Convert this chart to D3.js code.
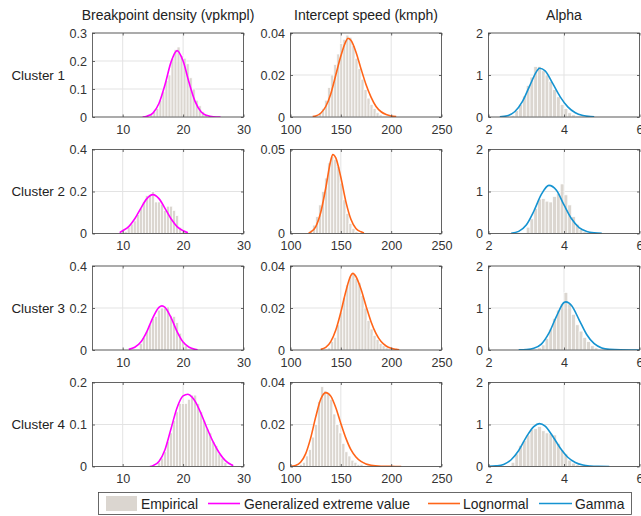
<!DOCTYPE html>
<html><head><meta charset="utf-8">
<script src="https://cdn.jsdelivr.net/npm/d3@7"></script>
<style>
body{margin:0;background:#fff;}
svg{display:block;font-family:"Liberation Sans",Arial,sans-serif;}
</style></head>
<body><svg id="c" width="641" height="516"></svg>
<script>
// ---------- data ----------
const columnTitles = ["Breakpoint density (vpkmpl)", "Intercept speed (kmph)", "Alpha"];
const clusterNames = ["Cluster 1", "Cluster 2", "Cluster 3", "Cluster 4"];
const fitNames = ["Generalized extreme value", "Lognormal", "Gamma"];

const xDomains = [[5, 30], [100, 250], [2, 6]];
const xTickValues = [[10, 20, 30], [100, 150, 200, 250], [2, 4, 6]];

// y axis max and tick labels, [cluster][column]
const yMax = [
  [0.3, 0.04, 2],
  [0.4, 0.05, 2],
  [0.4, 0.04, 2],
  [0.2, 0.04, 2]
];
const yTickLabels = [
  [["0","0.1","0.2","0.3"], ["0","0.02","0.04"], ["0","1","2"]],
  [["0","0.2","0.4"], ["0","0.05"], ["0","1","2"]],
  [["0","0.2","0.4"], ["0","0.02","0.04"], ["0","1","2"]],
  [["0","0.1","0.2"], ["0","0.02","0.04"], ["0","1","2"]]
];

// histogram bins: first bin edge, bin width, densities
const bdBinStart = [14, 10.25, 12.75, 15.75];
const bdBinWidth = 0.5;
const bdHist = [
  [0.005,0.01,0.02,0.03,0.06,0.09,0.13,0.15,0.21,0.24,0.25,0.22,0.21,0.19,0.14,0.10,0.06,0.04,0.02,0.01],
  [0.01,0.03,0.045,0.06,0.09,0.12,0.15,0.18,0.185,0.20,0.15,0.15,0.14,0.11,0.13,0.13,0.11,0.085,0.03,0.01],
  [0.03,0.06,0.09,0.12,0.15,0.16,0.19,0.20,0.20,0.205,0.165,0.16,0.13,0.08,0.04,0.02],
  [0.01,0.02,0.035,0.06,0.08,0.11,0.13,0.15,0.15,0.15,0.16,0.17,0.17,0.15,0.13,0.11,0.09,0.08,0.06,0.05,0.03,0.02,0.01]
];
const isBinStart = [128, 119, 137, 106];
const isBinWidth = 3;
const isHist = [
  [0.002,0.004,0.008,0.014,0.02,0.025,0.03,0.035,0.037,0.039,0.038,0.034,0.028,0.023,0.018,0.013,0.009,0.006,0.004,0.002,0.001],
  [0.002,0.005,0.01,0.017,0.025,0.033,0.042,0.046,0.044,0.04,0.03,0.02,0.012,0.006,0.003,0.001],
  [0.001,0.004,0.006,0.012,0.018,0.025,0.031,0.035,0.036,0.034,0.032,0.026,0.02,0.014,0.01,0.007,0.005,0.003,0.002,0.001],
  [0.0005,0.001,0.002,0.005,0.008,0.014,0.02,0.031,0.038,0.036,0.035,0.032,0.025,0.02,0.016,0.011,0.007,0.005,0.003,0.002,0.001,0.001]
];
const alphaBinStart = [2.5, 3.0, 3.3, 2.6];
const alphaBinWidth = 0.1;
const alphaHist = [
  [0.01,0.04,0.15,0.3,0.5,0.75,0.95,1.2,1.2,1.1,1.0,0.85,0.65,0.48,0.3,0.2,0.1,0.05],
  [0.15,0.35,0.6,0.82,0.83,0.77,0.75,0.88,0.95,1.18,0.92,0.68,0.4,0.22,0.1,0.04],
  [0.05,0.12,0.27,0.5,0.75,0.95,1.1,1.37,1.1,0.85,0.6,0.45,0.3,0.2,0.1,0.05,0.02],
  [0.1,0.3,0.5,0.62,0.75,0.88,0.9,0.95,0.85,0.8,0.78,0.75,0.55,0.4,0.3,0.15,0.08,0.04]
];

// fitted curves [x, density]
const gevCurves = [
  [[13.3,0],[14,0.003],[15,0.014],[16,0.048],[17,0.115],[18,0.196],[19,0.237],[20,0.2],[21,0.122],[22,0.055],[23,0.018],[24,0.005],[25,0.001],[26.2,0]],
  [[9.5,0.004],[10,0.013],[11,0.033],[12,0.07],[13,0.12],[14,0.166],[15,0.185],[16,0.166],[17,0.12],[18,0.07],[19,0.033],[20,0.013],[20.8,0.004]],
  [[11,0.003],[12,0.013],[13,0.038],[14,0.088],[15,0.154],[16,0.203],[16.5,0.21],[17,0.203],[18,0.154],[19,0.088],[20,0.038],[21,0.013],[22,0.003],[22.4,0.001]],
  [[14.5,0],[15,0.002],[16,0.012],[17,0.04],[18,0.09],[19,0.14],[20,0.168],[20.8,0.172],[21.5,0.165],[22,0.155],[23,0.125],[24,0.09],[25,0.058],[26,0.032],[27,0.014],[28,0.004],[28.3,0.002]]
];
const lognCurves = [
  [[122,0.0002],[125,0.0005],[130,0.0018],[135,0.005],[140,0.011],[145,0.02],[150,0.029],[155,0.036],[157,0.0375],[160,0.0365],[165,0.031],[170,0.023],[175,0.0155],[180,0.0095],[185,0.005],[190,0.0025],[195,0.0012],[200,0.0005],[205,0.0002]],
  [[118,0.0003],[120,0.0008],[125,0.004],[130,0.0125],[135,0.027],[140,0.0435],[142,0.047],[145,0.045],[150,0.0335],[155,0.019],[160,0.0085],[165,0.003],[170,0.001],[173,0.0003]],
  [[130,0.0003],[135,0.0012],[140,0.004],[145,0.0095],[150,0.018],[155,0.028],[160,0.0355],[162,0.0365],[165,0.035],[170,0.029],[175,0.021],[180,0.0135],[185,0.0078],[190,0.004],[195,0.0019],[200,0.0008],[205,0.0003],[208,0.0001]],
  [[100,0.0001],[105,0.0005],[110,0.002],[115,0.006],[120,0.0135],[125,0.0235],[130,0.032],[135,0.0352],[140,0.0335],[145,0.028],[150,0.0205],[155,0.0135],[160,0.008],[165,0.0045],[170,0.0024],[175,0.0012],[180,0.0006],[190,0.00015],[200,0.00004],[210,0]]
];
const gammaCurves = [
  [[2.3,0.005],[2.5,0.03],[2.7,0.13],[2.9,0.37],[3.1,0.76],[3.3,1.12],[3.35,1.16],[3.5,1.1],[3.7,0.8],[3.9,0.48],[4.1,0.24],[4.3,0.1],[4.5,0.035],[4.7,0.01],[4.8,0.005]],
  [[2.6,0.005],[2.8,0.05],[3.0,0.2],[3.2,0.53],[3.4,0.93],[3.6,1.145],[3.8,1.03],[4.0,0.68],[4.2,0.35],[4.4,0.14],[4.6,0.05],[4.8,0.015],[5.0,0.004]],
  [[2.8,0.002],[3.0,0.01],[3.2,0.04],[3.4,0.14],[3.6,0.4],[3.8,0.8],[4.0,1.13],[4.05,1.146],[4.2,1.06],[4.4,0.72],[4.6,0.37],[4.8,0.15],[5.0,0.05],[5.2,0.015],[5.5,0.003],[6.0,0]],
  [[2.0,0.003],[2.2,0.015],[2.4,0.05],[2.6,0.16],[2.8,0.38],[3.0,0.7],[3.2,0.95],[3.35,1.02],[3.5,0.96],[3.7,0.72],[3.9,0.44],[4.1,0.22],[4.3,0.095],[4.5,0.035],[4.7,0.012],[4.9,0.004],[5.2,0.001]]
];

// ---------- styles / layout ----------
const fitColors = ["#ff00ff", "#ff6519", "#1593d1"];
const barColor = "#dbd6d0";
const colLeft = [92.5, 290.5, 488.5];
const plotW = 151;
const rowTop = [33, 149.5, 266, 382.5];
const plotH = 84;
const FONT = '"Liberation Sans",Arial,sans-serif';

const hists = [bdHist, isHist, alphaHist];
const binStarts = [bdBinStart, isBinStart, alphaBinStart];
const binWidths = [bdBinWidth, isBinWidth, alphaBinWidth];
const curves = [gevCurves, lognCurves, gammaCurves];

const svg = d3.select("#c");
const defs = svg.append("defs");

columnTitles.forEach((t, c) => {
  svg.append("text").attr("x", colLeft[c] + plotW / 2).attr("y", 20)
    .attr("text-anchor", "middle").attr("font-size", 14).attr("fill", "#222").text(t);
});

clusterNames.forEach((name, r) => {
  svg.append("text").attr("x", 65).attr("y", rowTop[r] + plotH / 2 + 4.5)
    .attr("text-anchor", "end").attr("font-size", 13.4).attr("fill", "#222").text(name);

  for (let c = 0; c < 3; c++) {
    const x = d3.scaleLinear().domain(xDomains[c]).range([colLeft[c], colLeft[c] + plotW]);
    const y = d3.scaleLinear().domain([0, yMax[r][c]]).range([rowTop[r] + plotH, rowTop[r]]);
    const yTicks = yTickLabels[r][c].map(Number);
    const g = svg.append("g");
    const clipId = `clip-${r}-${c}`;
    defs.append("clipPath").attr("id", clipId).append("rect")
      .attr("x", colLeft[c]).attr("y", rowTop[r] - 1).attr("width", plotW).attr("height", plotH + 1);

    // grid
    g.selectAll(".gx").data(xTickValues[c]).join("line")
      .attr("x1", d => x(d)).attr("x2", d => x(d)).attr("y1", rowTop[r]).attr("y2", rowTop[r] + plotH)
      .attr("stroke", "#e3e3e3").attr("stroke-width", 1);
    g.selectAll(".gy").data(yTicks).join("line")
      .attr("x1", colLeft[c]).attr("x2", colLeft[c] + plotW).attr("y1", d => y(d)).attr("y2", d => y(d))
      .attr("stroke", "#e3e3e3").attr("stroke-width", 1);

    // bars
    const bw = binWidths[c], b0 = binStarts[c][r];
    g.append("g").attr("clip-path", `url(#${clipId})`).selectAll("rect").data(hists[c][r]).join("rect")
      .attr("x", (d, i) => x(b0 + i * bw))
      .attr("width", (d, i) => x(b0 + (i + 1) * bw) - x(b0 + i * bw))
      .attr("y", d => y(d)).attr("height", d => y(0) - y(d))
      .attr("fill", barColor).attr("stroke", "#fff").attr("stroke-width", 0.7);

    // curve
    const line = d3.line().x(d => x(d[0])).y(d => y(d[1])).curve(d3.curveMonotoneX);
    g.append("path").attr("clip-path", `url(#${clipId})`).attr("d", line(curves[c][r]))
      .attr("fill", "none").attr("stroke", fitColors[c]).attr("stroke-width", 1.6);

    // axes
    const ax = g.append("g").attr("transform", `translate(0,${rowTop[r] + plotH})`)
      .call(d3.axisBottom(x).tickValues(xTickValues[c]).tickSizeInner(-2.5).tickSizeOuter(0).tickPadding(8).tickFormat(d3.format("d")));
    const ay = g.append("g").attr("transform", `translate(${colLeft[c]},0)`)
      .call(d3.axisLeft(y).tickValues(yTicks).tickSizeInner(-2.5).tickSizeOuter(0).tickPadding(5.5)
        .tickFormat((d, i) => yTickLabels[r][c][i]));
    const at = g.append("g").attr("transform", `translate(0,${rowTop[r]})`)
      .call(d3.axisTop(x).tickValues(xTickValues[c]).tickSizeInner(-2.5).tickSizeOuter(0).tickFormat(""));
    const ar = g.append("g").attr("transform", `translate(${colLeft[c] + plotW},0)`)
      .call(d3.axisRight(y).tickValues(yTicks).tickSizeInner(-2.5).tickSizeOuter(0).tickFormat(""));
    [ax, ay, at, ar].forEach(a => {
      a.select(".domain").remove();
      a.selectAll("line").attr("stroke", "#444").attr("stroke-width", 0.8);
      a.selectAll("text").attr("font-size", 12.6).attr("fill", "#333").attr("font-family", FONT);
    });
    g.append("rect").attr("x", colLeft[c]).attr("y", rowTop[r]).attr("width", plotW).attr("height", plotH)
      .attr("fill", "none").attr("stroke", "#444").attr("stroke-width", 0.8);
  }
});

// ---------- legend ----------
const leg = svg.append("g");
leg.append("rect").attr("x", 98.5).attr("y", 492.5).attr("width", 533).attr("height", 22)
  .attr("fill", "#fff").attr("stroke", "#444").attr("stroke-width", 0.8);
const ly = 503.5;
leg.append("rect").attr("x", 106).attr("y", ly - 7.5).attr("width", 31).attr("height", 15).attr("fill", barColor);
leg.append("text").attr("x", 141).attr("y", ly + 5).attr("font-size", 13.9).attr("fill", "#222").text("Empirical");
const legItems = [
  { x1: 208, x2: 240, tx: 244 },
  { x1: 428, x2: 460, tx: 463 },
  { x1: 539, x2: 572, tx: 575 }
];
legItems.forEach((it, i) => {
  leg.append("line").attr("x1", it.x1).attr("x2", it.x2).attr("y1", ly).attr("y2", ly)
    .attr("stroke", fitColors[i]).attr("stroke-width", 1.6);
  leg.append("text").attr("x", it.tx).attr("y", ly + 5).attr("font-size", 13.9).attr("fill", "#222").text(fitNames[i]);
});
</script></body></html>
